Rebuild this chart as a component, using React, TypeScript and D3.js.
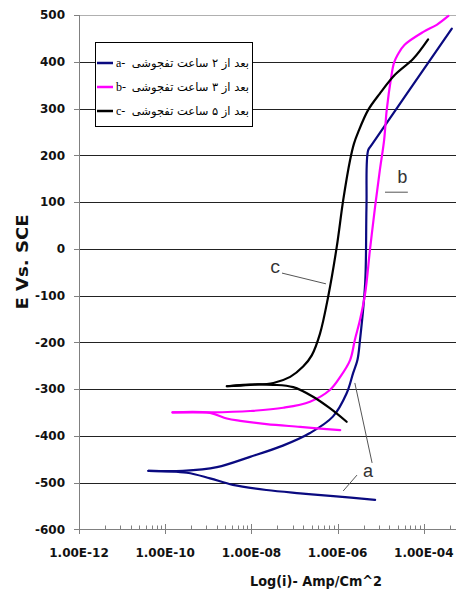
import React from "react";
import * as d3 from "d3";

// ---- data (log10 of current density, potential in mV) ----
const aAnodicLog = [-10.39, -9.59, -8.8, -8.03, -7.27, -6.64, -6.11, -5.79, -5.64, -5.54, -5.48, -5.36, -5.33, -5.29, -5.21, -3.35];
const aAnodicE = [-475, -475, -467, -445, -421, -394, -359, -309, -266, -238, -195, -73, 90, 211, 222, 471];
const aCathodicLog = [-10.39, -9.5, -8.96, -8.43, -7.65, -6.87, -6.1, -5.13];
const aCathodicE = [-475, -479, -491, -505, -516, -523, -529, -537];

const bAnodicLog = [-9.83, -8.96, -8.03, -7.26, -6.64, -6.18, -5.94, -5.71, -5.6, -5.48, -5.36, -5.25, -5.13, -5.02, -4.92, -4.86, -4.76, -4.69, -4.6, -4.45, -4.01, -3.7, -3.43];
const bAnodicE = [-350, -350, -347, -340, -327, -302, -274, -238, -195, -152, -95, -3, 90, 168, 233, 297, 365, 398, 416, 436, 464, 479, 498];
const bCathodicLog = [-9.83, -8.96, -8.57, -8.26, -7.65, -6.87, -5.94];
const bCathodicE = [-350, -351, -363, -368, -375, -381, -388];

const cAnodicLog = [-8.57, -8.03, -7.49, -7.1, -6.8, -6.6, -6.41, -6.22, -6.02, -5.87, -5.71, -5.62, -5.52, -5.29, -5.02, -4.67, -4.24, -3.9];
const cAnodicE = [-294, -291, -287, -274, -252, -228, -182, -103, 4, 104, 190, 225, 250, 297, 332, 372, 407, 448];
const cCathodicLog = [-8.57, -8.19, -7.49, -7.03, -6.56, -6.18, -5.79];
const cCathodicE = [-294, -291, -291, -296, -317, -341, -370];

const seriesNames = ["a-", "b-", "c-"];
const seriesLabels = ["بعد از ۲ ساعت تفجوشی", "بعد از ۳ ساعت تفجوشی", "بعد از ۵ ساعت تفجوشی"];
const seriesColors = ["#0a0a80", "#ff00ff", "#000000"];

const xMajorTicks = [1e-12, 1e-10, 1e-8, 1e-6, 1e-4];
const xTickLabels = ["1.00E-12", "1.00E-10", "1.00E-08", "1.00E-06", "1.00E-04"];
const yTicks = [-600, -500, -400, -300, -200, -100, 0, 100, 200, 300, 400, 500];

// annotations in data units [log10(i), E]
const annoText = [
  { t: "a", p: [-5.41, -488], font: "Liberation Sans" },
  { t: "b", p: [-4.62, 141], font: "Liberation Mono" },
  { t: "c", p: [-7.57, -52], font: "Liberation Mono" },
];
const annoLines = [
  [[-7.29, -52], [-6.27, -75]],
  [[-5.6, -287], [-5.2, -458]],
  [[-5.55, -484], [-5.87, -518]],
  [[-4.9, 121], [-4.37, 121]],
];

export default function App() {
  const W = 456, H = 599;
  const x = d3.scaleLog().domain([1e-12, 1e-3]).range([79, 79 + 9 * 43.1]);
  const y = d3.scaleLinear().domain([-600, 500]).range([529.3, 15]);
  const xr = 456;

  const mk = (logs: number[], es: number[]) =>
    d3
      .line<number>()
      .x((_, i) => x(Math.pow(10, logs[i])))
      .y((_, i) => y(es[i]))
      .curve(d3.curveCatmullRom.alpha(0.5))(logs) as string;

  const curves = [
    [mk(aCathodicLog, aCathodicE), mk(aAnodicLog, aAnodicE)],
    [mk(bCathodicLog, bCathodicE), mk(bAnodicLog, bAnodicE)],
    [mk(cCathodicLog, cCathodicE), mk(cAnodicLog, cAnodicE)],
  ];

  const minor: number[] = [];
  xMajorTicks.forEach((m) => {
    for (let k = 2; k <= 9; k++) minor.push(m * k * k);
  });

  const tickFont = { fontFamily: "DejaVu Sans", fontWeight: "bold" as const, fontSize: 12 };
  const x0 = x(1e-12);

  return (
    <svg width={W} height={H} style={{ position: "absolute", left: 0, top: 0, background: "#fff" }}>
      <rect x={0} y={0} width={W} height={H} fill="#fff" />
      {/* gridlines */}
      {yTicks.filter((t) => t > -600).map((t) => (
        <line key={t} x1={x0} x2={xr} y1={Math.round(y(t)) + 0.5} y2={Math.round(y(t)) + 0.5}
          stroke={t === 500 ? "#b0b0b0" : "#222"} strokeWidth={1} />
      ))}
      {/* axes */}
      <line x1={x0} x2={xr} y1={Math.round(y(-600)) + 0.5} y2={Math.round(y(-600)) + 0.5} stroke="#808080" />
      <line x1={Math.round(x0) + 0.5} x2={Math.round(x0) + 0.5} y1={y(500)} y2={y(-600)} stroke="#808080" />
      {yTicks.map((t) => (
        <g key={t}>
          <line x1={74} x2={x0} y1={Math.round(y(t)) + 0.5} y2={Math.round(y(t)) + 0.5} stroke="#808080" />
          <text x={65} y={y(t)} dy="0.36em" textAnchor="end" fill="#111" {...tickFont}>{t}</text>
        </g>
      ))}
      {xMajorTicks.map((t, i) => (
        <g key={t}>
          <line x1={Math.round(x(t)) + 0.5} x2={Math.round(x(t)) + 0.5} y1={524} y2={534} stroke="#808080" />
          <text x={x(t)} y={557} textAnchor="middle" fill="#111" {...tickFont}>{xTickLabels[i]}</text>
        </g>
      ))}
      {minor.filter((v) => x(v) < xr).map((v, i) => (
        <line key={i} x1={Math.round(x(v)) + 0.5} x2={Math.round(x(v)) + 0.5} y1={525.5} y2={529.5} stroke="#808080" />
      ))}
      {/* axis titles */}
      <text x={316} y={586} textAnchor="middle" fontFamily="DejaVu Sans" fontWeight="bold" fontSize={14}
        textLength={132} lengthAdjust="spacingAndGlyphs" fill="#111">Log(i)- Amp/Cm^2</text>
      <text transform="translate(28,262) rotate(-90)" textAnchor="middle" fontFamily="DejaVu Sans" fontWeight="bold"
        fontSize={15} textLength={95} lengthAdjust="spacingAndGlyphs" fill="#111">E Vs. SCE</text>
      {/* curves */}
      {curves.map((pair, i) => (
        <g key={i} fill="none" stroke={seriesColors[i]} strokeWidth={2.2} strokeLinejoin="round" strokeLinecap="round">
          <path d={pair[0]} />
          <path d={pair[1]} />
        </g>
      ))}
      {/* annotations */}
      {annoLines.map((l, i) => (
        <line key={i} x1={x(Math.pow(10, l[0][0]))} y1={y(l[0][1])} x2={x(Math.pow(10, l[1][0]))} y2={y(l[1][1])}
          stroke="#555" strokeWidth={1} />
      ))}
      {annoText.map((a) => (
        <text key={a.t} x={x(Math.pow(10, a.p[0]))} y={y(a.p[1])} fontFamily={a.font} fontSize={18} fill="#333">{a.t}</text>
      ))}
      {/* legend */}
      <rect x={95.5} y={42.5} width={157} height={84} fill="#fff" stroke="#000" strokeWidth={1} />
      {seriesNames.map((n, i) => {
        const ly = 63 + i * 24;
        return (
          <g key={n}>
            <line x1={97} x2={113} y1={ly} y2={ly} stroke={seriesColors[i]} strokeWidth={2.5} />
            <text x={116} y={ly + 4} fontFamily="Liberation Serif" fontSize={12} fill="#000">{n}</text>
            <text x={249} y={ly + 4} textAnchor="end" fontFamily="DejaVu Sans" fontSize={11.5} fill="#000">{seriesLabels[i]}</text>
          </g>
        );
      })}
    </svg>
  );
}
